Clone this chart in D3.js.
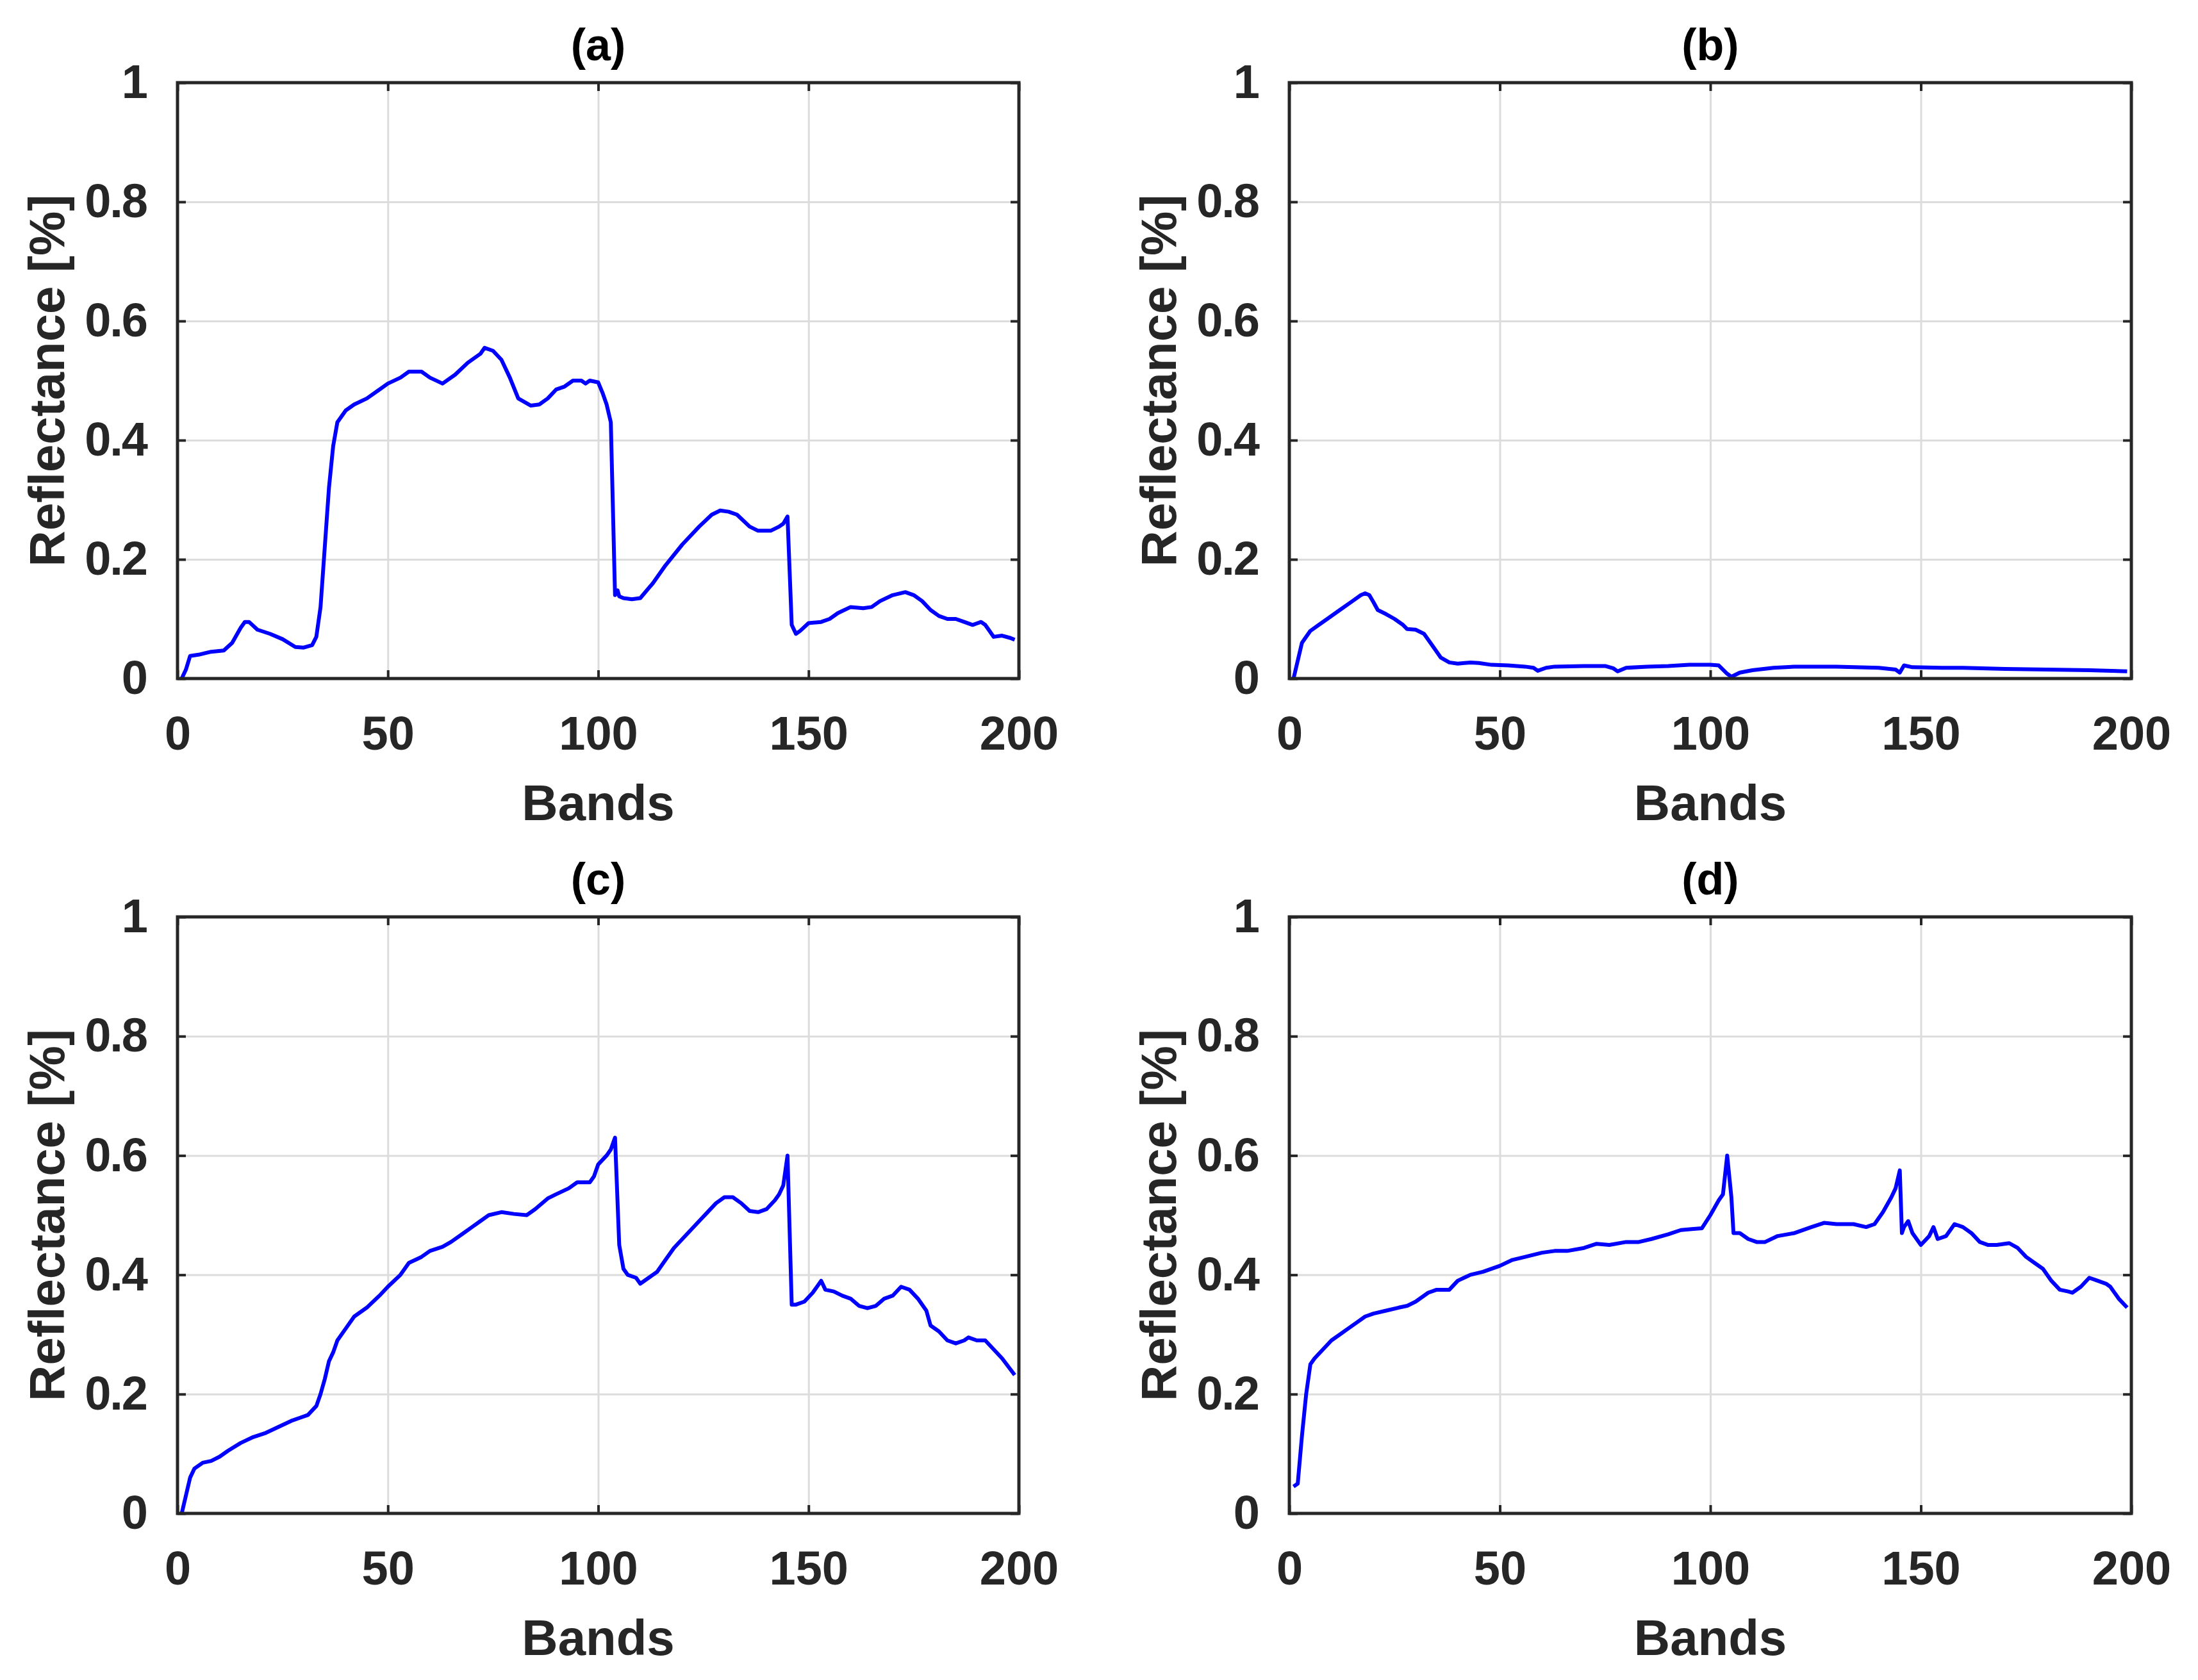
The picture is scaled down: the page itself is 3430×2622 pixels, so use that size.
<!DOCTYPE html>
<html>
<head>
<meta charset="utf-8">
<script src="https://cdn.jsdelivr.net/npm/d3@7"></script>
<style>
  body { margin: 0; background: #fff; }
  svg { display: block; font-family: "Liberation Sans", Arial, Helvetica, sans-serif; }
</style>
</head>
<body>
<div id="chart"></div>
<script>
const width = 3430;
const height = 2622;

// band / reflectance pairs
const spectrumA = [
  [1, 0.0], [2, 0.015], [3, 0.038], [5, 0.04], [8, 0.045], [11, 0.047], [13, 0.06], [15, 0.085],
  [16, 0.095], [17, 0.095], [19, 0.082], [22, 0.075], [25, 0.066], [28, 0.053], [30, 0.052],
  [32, 0.056], [33, 0.07], [34, 0.12], [35, 0.22], [36, 0.32], [37, 0.39], [38, 0.43], [40, 0.45],
  [42, 0.46], [45, 0.47], [48, 0.485], [50, 0.495], [53, 0.505], [55, 0.515], [58, 0.515],
  [60, 0.505], [63, 0.495], [66, 0.51], [69, 0.53], [72, 0.545], [73, 0.555], [75, 0.55],
  [77, 0.535], [79, 0.505], [81, 0.47], [84, 0.458], [86, 0.46], [88, 0.47], [90, 0.485],
  [92, 0.49], [94, 0.5], [96, 0.5], [97, 0.495], [98, 0.5], [100, 0.497], [101, 0.48],
  [102, 0.46], [103, 0.43], [104, 0.14], [104.6, 0.148], [105, 0.138], [106, 0.135], [108, 0.133],
  [110, 0.135], [113, 0.16], [116, 0.19], [120, 0.225], [124, 0.255], [127, 0.275], [129, 0.282],
  [131, 0.28], [133, 0.275], [136, 0.255], [138, 0.248], [141, 0.248], [143, 0.255], [144, 0.26],
  [145, 0.272], [146, 0.09], [147, 0.075], [148, 0.08], [150, 0.093], [153, 0.095], [155, 0.1],
  [157, 0.11], [160, 0.12], [163, 0.118], [165, 0.12], [167, 0.13], [170, 0.14], [173, 0.145],
  [175, 0.14], [177, 0.13], [179, 0.115], [181, 0.105], [183, 0.1], [185, 0.1], [187, 0.095],
  [189, 0.09], [191, 0.095], [192, 0.09], [193, 0.08], [194, 0.07], [196, 0.072], [198, 0.068],
  [199, 0.065]
];

const spectrumB = [
  [1, 0.0], [2, 0.03], [3, 0.06], [5, 0.08], [7, 0.09], [9, 0.1], [12, 0.115], [15, 0.13],
  [17, 0.14], [18, 0.143], [19, 0.14], [20, 0.128], [21, 0.115], [23, 0.108], [25, 0.1],
  [27, 0.09], [28, 0.083], [30, 0.082], [32, 0.075], [34, 0.055], [36, 0.035], [38, 0.027],
  [40, 0.025], [43, 0.027], [45, 0.026], [48, 0.023], [52, 0.022], [56, 0.02], [58, 0.018],
  [59, 0.013], [61, 0.018], [63, 0.02], [70, 0.021], [75, 0.021], [77, 0.017], [78, 0.012],
  [80, 0.018], [85, 0.02], [90, 0.021], [95, 0.023], [100, 0.023], [102, 0.022], [104, 0.008],
  [105, 0.003], [107, 0.01], [110, 0.014], [115, 0.018], [120, 0.02], [130, 0.02], [140, 0.018],
  [144, 0.015], [145, 0.01], [146, 0.022], [148, 0.019], [155, 0.018], [160, 0.018],
  [170, 0.016], [180, 0.015], [190, 0.014], [199, 0.012]
];

const spectrumC = [
  [1, 0.0], [2, 0.03], [3, 0.06], [4, 0.075], [6, 0.085], [8, 0.088], [10, 0.095], [12, 0.105],
  [15, 0.118], [18, 0.128], [21, 0.135], [24, 0.145], [27, 0.155], [29, 0.16], [31, 0.165],
  [33, 0.18], [34, 0.2], [35, 0.225], [36, 0.255], [37, 0.27], [38, 0.29], [40, 0.31],
  [42, 0.33], [45, 0.345], [48, 0.365], [50, 0.38], [53, 0.4], [55, 0.42], [58, 0.43],
  [60, 0.44], [63, 0.447], [65, 0.455], [68, 0.47], [70, 0.48], [72, 0.49], [74, 0.5],
  [77, 0.505], [80, 0.502], [83, 0.5], [85, 0.51], [88, 0.528], [90, 0.535], [93, 0.545],
  [95, 0.555], [97, 0.555], [98, 0.555], [99, 0.565], [100, 0.585], [102, 0.6], [103, 0.61],
  [104, 0.63], [105, 0.45], [106, 0.41], [107, 0.4], [109, 0.395], [110, 0.385], [112, 0.395],
  [114, 0.405], [116, 0.425], [118, 0.445], [120, 0.46], [122, 0.475], [124, 0.49], [126, 0.505],
  [128, 0.52], [130, 0.53], [132, 0.53], [134, 0.52], [136, 0.507], [138, 0.505], [140, 0.51],
  [142, 0.525], [143, 0.535], [144, 0.55], [145, 0.6], [146, 0.35], [147, 0.35], [149, 0.355],
  [151, 0.37], [153, 0.39], [154, 0.375], [156, 0.372], [158, 0.365], [160, 0.36], [162, 0.348],
  [164, 0.344], [166, 0.348], [168, 0.36], [170, 0.365], [172, 0.38], [174, 0.375], [176, 0.36],
  [178, 0.34], [179, 0.315], [181, 0.305], [183, 0.29], [185, 0.285], [187, 0.29], [188, 0.295],
  [190, 0.29], [192, 0.29], [194, 0.275], [196, 0.26], [199, 0.232]
];

const spectrumD = [
  [1, 0.045], [2, 0.05], [3, 0.13], [4, 0.2], [5, 0.25], [6, 0.26], [8, 0.275], [10, 0.29],
  [12, 0.3], [14, 0.31], [16, 0.32], [18, 0.33], [20, 0.335], [23, 0.34], [26, 0.345],
  [28, 0.348], [30, 0.355], [33, 0.37], [35, 0.375], [38, 0.375], [40, 0.39], [43, 0.4],
  [46, 0.405], [50, 0.415], [53, 0.425], [56, 0.43], [60, 0.437], [63, 0.44], [66, 0.44],
  [70, 0.445], [73, 0.452], [76, 0.45], [80, 0.455], [83, 0.455], [86, 0.46], [90, 0.468],
  [93, 0.475], [96, 0.477], [98, 0.478], [100, 0.5], [102, 0.525], [103, 0.535], [104, 0.6],
  [105, 0.53], [105.5, 0.47], [107, 0.47], [109, 0.46], [111, 0.455], [113, 0.455], [116, 0.465],
  [120, 0.47], [124, 0.48], [127, 0.487], [130, 0.485], [134, 0.485], [137, 0.48], [139, 0.485],
  [141, 0.505], [143, 0.53], [144, 0.545], [145, 0.575], [145.5, 0.47], [146, 0.48], [147, 0.49],
  [148, 0.47], [150, 0.45], [152, 0.465], [153, 0.48], [154, 0.46], [156, 0.465], [158, 0.485],
  [160, 0.48], [162, 0.47], [164, 0.455], [166, 0.45], [168, 0.45], [171, 0.453], [173, 0.445],
  [175, 0.43], [177, 0.42], [179, 0.41], [181, 0.39], [183, 0.375], [185, 0.372], [186, 0.37],
  [188, 0.38], [190, 0.395], [192, 0.39], [194, 0.385], [195, 0.38], [197, 0.36], [199, 0.345]
];

const panelTitles = ['(a)', '(b)', '(c)', '(d)'];
const xTicks = [0, 50, 100, 150, 200];
const yTicks = [0, 0.2, 0.4, 0.6, 0.8, 1];
const yTickLabels = ['0', '0.2', '0.4', '0.6', '0.8', '1'];
const xLabel = 'Bands';
const yLabel = 'Reflectance [%]';

const spectra = [spectrumA, spectrumB, spectrumC, spectrumD];

// plot-area boxes, in page pixels
const cols = [[277, 1590], [2012, 3326]];
const rows = [[129, 1059], [1431, 2362]];

const axisColor = '#262626';
const gridColor = '#dcdcdc';
const tickLen = 13;
const fontStack = '"Liberation Sans", Arial, sans-serif';

const svg = d3.select('#chart').append('svg')
    .attr('width', width)
    .attr('height', height);

svg.append('rect').attr('width', width).attr('height', height).attr('fill', '#fff');

spectra.forEach(function (data, i) {
  const [x0, x1] = cols[i % 2];
  const [y0, y1] = rows[Math.floor(i / 2)];
  const w = x1 - x0;
  const h = y1 - y0;

  const x = d3.scaleLinear().domain([0, 200]).range([0, w]);
  const y = d3.scaleLinear().domain([0, 1]).range([h, 0]);

  const g = svg.append('g').attr('transform', `translate(${x0}, ${y0})`);

  // grid
  g.append('g')
      .attr('transform', `translate(0, ${h})`)
      .call(d3.axisBottom(x).tickValues(xTicks).tickSize(-h).tickFormat(''))
      .call(s => s.select('.domain').remove())
      .call(s => s.selectAll('line').attr('stroke', gridColor).attr('stroke-width', 3));

  g.append('g')
      .call(d3.axisLeft(y).tickValues(yTicks).tickSize(-w).tickFormat(''))
      .call(s => s.select('.domain').remove())
      .call(s => s.selectAll('line').attr('stroke', gridColor).attr('stroke-width', 3));

  // spectrum
  g.append('path')
      .datum(data)
      .attr('fill', 'none')
      .attr('stroke', '#0000ff')
      .attr('stroke-width', 6)
      .attr('stroke-linejoin', 'round')
      .attr('d', d3.line().x(d => x(d[0])).y(d => y(d[1])));

  // inward ticks on all four sides
  const inward = [
    [d3.axisBottom(x).tickValues(xTicks), `translate(0, ${h})`],
    [d3.axisTop(x).tickValues(xTicks), 'translate(0, 0)'],
    [d3.axisLeft(y).tickValues(yTicks), 'translate(0, 0)'],
    [d3.axisRight(y).tickValues(yTicks), `translate(${w}, 0)`]
  ];
  inward.forEach(function ([ax, tr]) {
    g.append('g')
        .attr('transform', tr)
        .call(ax.tickSize(-tickLen).tickFormat(''))
        .call(s => s.select('.domain').remove())
        .call(s => s.selectAll('line').attr('stroke', axisColor).attr('stroke-width', 4));
  });

  // box
  g.append('rect')
      .attr('width', w)
      .attr('height', h)
      .attr('fill', 'none')
      .attr('stroke', axisColor)
      .attr('stroke-width', 5);

  // tick labels
  g.append('g')
      .attr('transform', `translate(0, ${h})`)
      .call(d3.axisBottom(x).tickValues(xTicks).tickSize(0).tickPadding(58))
      .call(s => s.select('.domain').remove())
      .call(s => s.selectAll('text')
        .attr('fill', axisColor)
        .attr('font-size', 74)
        .attr('font-weight', 'bold')
        .attr('font-family', fontStack));

  g.append('g')
      .call(d3.axisLeft(y).tickValues(yTicks).tickSize(0).tickPadding(48)
        .tickFormat((v, k) => yTickLabels[k]))
      .call(s => s.select('.domain').remove())
      .call(s => s.selectAll('text')
        .attr('fill', axisColor)
        .attr('font-size', 74)
        .attr('font-weight', 'bold')
        .attr('letter-spacing', -2)
        .attr('font-family', fontStack));

  // axis labels
  g.append('text')
      .attr('x', w / 2)
      .attr('y', h + 221)
      .attr('text-anchor', 'middle')
      .attr('fill', axisColor)
      .attr('font-size', 78)
      .attr('font-weight', 'bold')
      .text(xLabel);

  g.append('text')
      .attr('transform', `translate(-177, ${h / 2}) rotate(-90)`)
      .attr('text-anchor', 'middle')
      .attr('fill', axisColor)
      .attr('font-size', 78)
      .attr('font-weight', 'bold')
      .text(yLabel);

  // title
  g.append('text')
      .attr('x', w / 2)
      .attr('y', -35)
      .attr('text-anchor', 'middle')
      .attr('fill', '#000')
      .attr('font-size', 70)
      .attr('font-weight', 'bold')
      .text(panelTitles[i]);
});
</script>
</body>
</html>
